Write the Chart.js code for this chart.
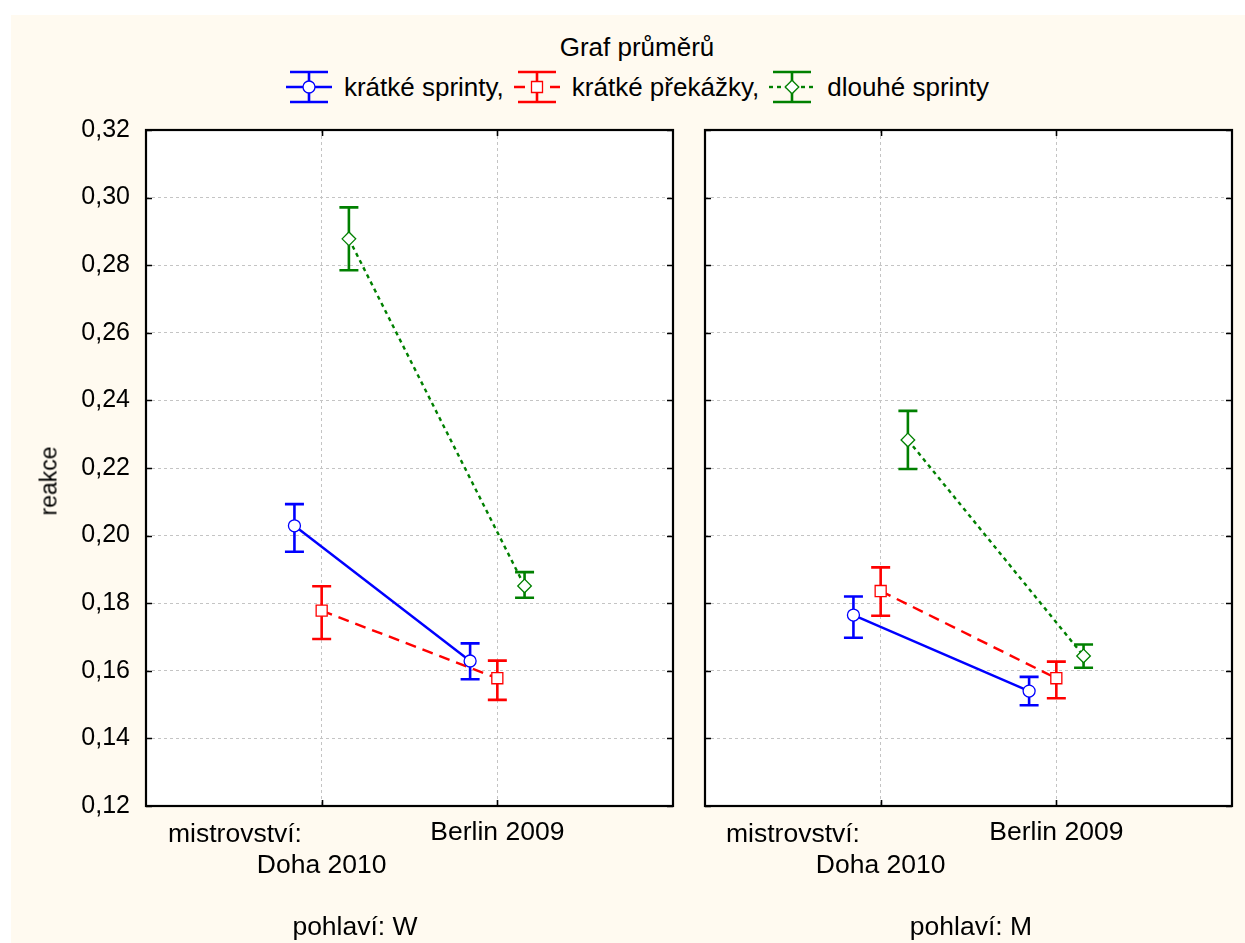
<!DOCTYPE html>
<html><head><meta charset="utf-8">
<script src="https://cdn.jsdelivr.net/npm/chart.js@4.4.1/dist/chart.umd.min.js"></script>
<style>
html,body{margin:0;padding:0;background:#fff;width:1245px;height:943px;overflow:hidden;font-family:'Liberation Sans',Arial,sans-serif;}
#bg{position:absolute;left:11px;top:15px;right:0;bottom:0;background:#fffaf0;}
canvas{position:absolute;top:0;}
.t{position:absolute;white-space:nowrap;color:#000;transform:translate(-50%,-50%);line-height:1;}
#legend{position:absolute;left:15px;width:1245px;top:70px;height:34px;display:flex;justify-content:center;align-items:center;}
#legend .item{display:flex;align-items:center;margin:0 5px;}
#legend canvas{position:static;margin-right:12px;}
#legend span{font-size:26px;line-height:1;color:#000;}
</style></head>
<body>
<div id="bg"></div>
<div class="t" style="left:637px;top:47px;font-size:26px;">Graf průměrů</div>
<div id="legend"></div>
<canvas id="cW" width="690" height="943" style="left:0;width:690px;height:943px;"></canvas>
<canvas id="cM" width="555" height="943" style="left:690px;width:555px;height:943px;"></canvas>
<div class="t" style="left:49px;top:481px;font-size:23px;transform:translate(-50%,-50%) rotate(-90deg);">reakce</div>
<div class="t" style="left:235px;top:833px;font-size:26.5px;">mistrovství:</div>
<div class="t" style="left:793px;top:833px;font-size:26.5px;">mistrovství:</div>
<div class="t" style="left:355px;top:926px;font-size:26.5px;">pohlaví: W</div>
<div class="t" style="left:971px;top:926px;font-size:26.5px;">pohlaví: M</div>
<script>
// ---------- data ----------
const categories = ['Doha 2010', 'Berlin 2009'];
const seriesNames = ['krátké sprinty,', 'krátké překážky,', 'dlouhé sprinty'];
const yTicks = [0.12, 0.14, 0.16, 0.18, 0.20, 0.22, 0.24, 0.26, 0.28, 0.30, 0.32];
const yTickLabels = ['0,12', '0,14', '0,16', '0,18', '0,20', '0,22', '0,24', '0,26', '0,28', '0,30', '0,32'];

// pohlaví: W
const wSprintMean  = [0.2029, 0.1629];
const wSprintLow   = [0.1952, 0.1575];
const wSprintHigh  = [0.2093, 0.1681];
const wHurdleMean  = [0.1778, 0.1578];
const wHurdleLow   = [0.1694, 0.1514];
const wHurdleHigh  = [0.1850, 0.1630];
const wLongMean    = [0.2878, 0.1851];
const wLongLow     = [0.2785, 0.1816];
const wLongHigh    = [0.2971, 0.1892];

// pohlaví: M
const mSprintMean  = [0.1765, 0.1540];
const mSprintLow   = [0.1698, 0.1498];
const mSprintHigh  = [0.1820, 0.1582];
const mHurdleMean  = [0.1836, 0.1578];
const mHurdleLow   = [0.1763, 0.1519];
const mHurdleHigh  = [0.1906, 0.1627];
const mLongMean    = [0.2283, 0.1644];
const mLongLow     = [0.2197, 0.1609];
const mLongHigh    = [0.2369, 0.1678];

// ---------- styles ----------
const FONT = "'Liberation Sans', Arial, sans-serif";
const colors = ['#0000ff', '#ff0000', '#008000'];
const dashes = [[], [11, 7], [4, 4]];
const pointStyles = ['circle', 'rect', 'rectRot'];
const pointRadii = [6, 7.8, 6.8];
const xOffsets = [-0.155, 0, 0.155];

function buildDatasets(means, lows, highs) {
  return means.map((m, s) => ({
    label: seriesNames[s],
    data: m.map((v, i) => ({ x: i + 1 + xOffsets[s], y: v })),
    errLow: lows[s], errHigh: highs[s],
    borderColor: colors[s], borderWidth: 2.4, borderDash: dashes[s],
    pointStyle: pointStyles[s], pointRadius: pointRadii[s], pointHoverRadius: pointRadii[s],
    pointBackgroundColor: '#ffffff', pointBorderColor: colors[s], pointBorderWidth: 1.3,
    fill: false, tension: 0
  }));
}

const areaBg = {
  id: 'areaBg',
  beforeDraw(chart) {
    const { ctx, chartArea: a } = chart;
    ctx.save(); ctx.fillStyle = '#ffffff';
    ctx.fillRect(a.left, a.top, a.right - a.left, a.bottom - a.top);
    ctx.restore();
  }
};

const errorBars = {
  id: 'errorBars',
  beforeDatasetsDraw(chart) {
    const { ctx, scales: { x, y } } = chart;
    chart.data.datasets.forEach(ds => {
      ctx.save();
      ctx.strokeStyle = ds.borderColor; ctx.lineWidth = 2.6; ctx.setLineDash([]);
      ds.data.forEach((p, i) => {
        const px = x.getPixelForValue(p.x);
        const yl = y.getPixelForValue(ds.errLow[i]);
        const yh = y.getPixelForValue(ds.errHigh[i]);
        ctx.beginPath();
        ctx.moveTo(px, yl); ctx.lineTo(px, yh);
        ctx.moveTo(px - 9.5, yl); ctx.lineTo(px + 9.5, yl);
        ctx.moveTo(px - 9.5, yh); ctx.lineTo(px + 9.5, yh);
        ctx.stroke();
      });
      ctx.restore();
    });
  }
};

const frame = {
  id: 'frame',
  afterDraw(chart) {
    const { ctx, chartArea: a, scales: { x, y } } = chart;
    ctx.save();
    ctx.strokeStyle = '#000'; ctx.setLineDash([]);
    ctx.lineWidth = 1.6;
    ctx.beginPath();
    y.ticks.forEach(t => {
      const py = Math.round(y.getPixelForValue(t.value)) + 0.5;
      ctx.moveTo(a.left, py); ctx.lineTo(a.left + 6, py);
      ctx.moveTo(a.right - 6, py); ctx.lineTo(a.right, py);
    });
    x.ticks.forEach(t => {
      const px = Math.round(x.getPixelForValue(t.value)) + 0.5;
      ctx.moveTo(px, a.top); ctx.lineTo(px, a.top + 6);
      ctx.moveTo(px, a.bottom - 6); ctx.lineTo(px, a.bottom);
    });
    ctx.stroke();
    ctx.lineWidth = 2.2;
    ctx.strokeRect(a.left, a.top, a.right - a.left, a.bottom - a.top);
    ctx.restore();
  }
};

function makeChart(id, datasets, showY, padding) {
  return new Chart(document.getElementById(id), {
    type: 'line',
    data: { datasets },
    plugins: [areaBg, errorBars, frame],
    options: {
      responsive: false, animation: false, devicePixelRatio: 1,
      layout: { padding },
      plugins: { legend: { display: false }, tooltip: { enabled: false } },
      scales: {
        x: {
          type: 'linear', min: 0, max: 3,
          afterBuildTicks: s => { s.ticks = categories.map((c, i) => ({ value: i + 1 })); },
          afterFit: s => { s.height = 137; },
          ticks: {
            autoSkip: false, maxRotation: 0, padding: 10.5, color: '#000',
            font: { family: FONT, size: 26.5, lineHeight: 33 / 26.5 },
            callback: (v) => (v === 1 ? ['', categories[0]] : [categories[1], ''])
          },
          grid: { color: '#c4c4c4', lineWidth: 1, drawTicks: false },
          border: { display: false, dash: [3, 3] }
        },
        y: {
          type: 'linear', min: 0.12, max: 0.32,
          afterBuildTicks: s => { s.ticks = yTicks.map(v => ({ value: v })); },
          afterFit: s => { s.width = showY ? 146 : 0; },
          ticks: {
            display: showY, padding: 16, color: '#000',
            font: { family: FONT, size: 25 },
            callback: (v) => { const i = yTicks.findIndex(t => Math.abs(t - v) < 1e-9); return i >= 0 ? yTickLabels[i] : ''; }
          },
          grid: { color: '#c4c4c4', lineWidth: 1, drawTicks: false },
          border: { display: false, dash: [3, 3] }
        }
      }
    }
  });
}

makeChart('cW', buildDatasets([wSprintMean, wHurdleMean, wLongMean], [wSprintLow, wHurdleLow, wLongLow], [wSprintHigh, wHurdleHigh, wLongHigh]), true, { left: 0, right: 17, top: 130, bottom: 0 });
makeChart('cM', buildDatasets([mSprintMean, mHurdleMean, mLongMean], [mSprintLow, mHurdleLow, mLongLow], [mSprintHigh, mHurdleHigh, mLongHigh]), false, { left: 15, right: 13, top: 130, bottom: 0 });

// ---------- legend ----------
const legend = document.getElementById('legend');
seriesNames.forEach((name, s) => {
  const item = document.createElement('div'); item.className = 'item';
  const c = document.createElement('canvas'); c.width = 46; c.height = 34;
  const g = c.getContext('2d');
  g.strokeStyle = colors[s]; g.lineWidth = 2.6;
  g.beginPath();
  g.moveTo(4, 2); g.lineTo(42, 2); g.moveTo(4, 32); g.lineTo(42, 32);
  g.moveTo(23, 2); g.lineTo(23, 32); g.stroke();
  g.lineWidth = 2.4; g.setLineDash(dashes[s]);
  g.beginPath(); g.moveTo(0, 17); g.lineTo(46, 17); g.stroke();
  g.setLineDash([]); g.lineWidth = 1.3; g.fillStyle = '#fff';
  g.beginPath();
  if (s === 0) { g.arc(23, 17, 6, 0, Math.PI * 2); }
  else if (s === 1) { g.rect(17.5, 11.5, 11, 11); }
  else { g.moveTo(23, 10.2); g.lineTo(29.8, 17); g.lineTo(23, 23.8); g.lineTo(16.2, 17); g.closePath(); }
  g.fill(); g.stroke();
  const sp = document.createElement('span'); sp.textContent = name;
  item.appendChild(c); item.appendChild(sp); legend.appendChild(item);
});
</script>
</body></html>
